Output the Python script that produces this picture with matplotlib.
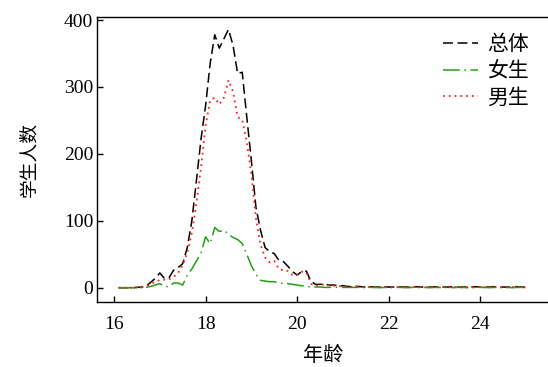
import numpy as np
import matplotlib
matplotlib.use('Agg')
import matplotlib.pyplot as plt

plt.rcParams['font.family'] = ['Liberation Serif', 'Noto Sans CJK SC']

# ages (years)
age = [16.1, 16.2, 16.3, 16.4, 16.5, 16.6, 16.7, 16.8, 16.9, 17.0,
       17.1, 17.2, 17.3, 17.4, 17.5, 17.6, 17.7, 17.8, 17.9, 18.0,
       18.1, 18.2, 18.3, 18.4, 18.5, 18.6, 18.7, 18.8, 18.9, 19.0,
       19.1, 19.2, 19.3, 19.4, 19.5, 19.6, 19.7, 19.8, 19.9, 20.0,
       20.1, 20.2, 20.3, 20.4, 20.5, 20.6, 20.7, 20.8, 20.9, 21.0,
       21.1, 21.2, 21.3, 21.4, 21.5, 21.6, 21.7, 21.8, 21.9, 22.0,
       22.1, 22.2, 22.3, 22.4, 22.5, 22.6, 22.7, 22.8, 22.9, 23.0,
       23.1, 23.2, 23.3, 23.4, 23.5, 23.6, 23.7, 23.8, 23.9, 24.0,
       24.1, 24.2, 24.3, 24.4, 24.5, 24.6, 24.7, 24.8, 24.9, 25.0]

total = [0, 0, 0, 0, 0.5, 1, 2.5, 8, 14, 22,
         14, 15, 26, 30, 36, 60, 100, 160, 222, 272,
         335, 378, 358, 372, 386, 362, 320, 322, 255, 190,
         120, 86, 60, 54, 51, 41, 39, 32, 24, 19,
         24, 25, 10, 5, 5, 5.5, 4, 4, 3, 3,
         2, 1.5, 2, 1.5, 1, 1.5, 1, 1, 1.5, 1,
         1, 1.5, 1, 1, 1, 1.5, 1, 1, 1, 1.5,
         1, 1, 1, 1.5, 1, 1, 1, 1, 1.5, 1,
         1, 1, 1.5, 1, 1, 1, 1, 1.5, 1, 1]

male = [0, 0, 0, 0, 0.5, 1, 2, 5, 9, 11.5,
        12, 12.5, 16, 22, 34, 52, 82, 126, 180, 242,
        280, 284, 274, 284, 310, 293, 255, 251, 218, 170,
        104, 64, 45, 38, 40, 28, 26, 25, 19, 19,
        24, 23, 6, 3, 4, 5, 3.5, 3, 2.5, 2,
        1.5, 1, 1.5, 1, 1, 1, 0.5, 1, 1, 0.5,
        1, 1, 0.5, 1, 0.5, 1, 1, 0.5, 1, 1,
        0.5, 1, 0.5, 1, 1, 0.5, 1, 0.5, 1, 1,
        0.5, 1, 1, 0.5, 1, 0.5, 1, 1, 0.5, 0.5]

female = [0, 0, 0, 0, 0, 0, 0.5, 2, 4, 6,
          2, 1.5, 7, 7, 4, 19, 28, 40, 52, 76,
          66, 90, 84, 86, 80, 75, 72, 66, 50, 33,
          20, 11, 10, 9, 9, 7, 6.5, 6, 5, 4,
          3, 2, 1, 1, 1, 0.5, 0.5, 1, 0.5, 0.5,
          0.5, 0.5, 0.5, 0.5, 0, 0.5, 0.5, 0, 0.5, 0.5,
          0, 0.5, 0.5, 0, 0.5, 0, 0.5, 0.5, 0, 0.5,
          0.5, 0, 0.5, 0, 0.5, 0.5, 0, 0.5, 0, 0.5,
          0.5, 0, 0.5, 0.5, 0, 0.5, 0, 0.5, 0.5, 0]

xticks = [16, 18, 20, 22, 24]
yticks = [0, 100, 200, 300, 400]

fig = plt.figure(figsize=(5.48, 3.67), dpi=100)
ax = fig.add_axes([0.1776, 0.177, 0.8224, 0.7775])

ax.plot(age, total, color='black', lw=1.1, dashes=(6.5, 3), label='总体')
ax.plot(age, female, color='#22a012', lw=1.1, dashes=(11, 3, 1, 3), label='女生')
ax.plot(age, male, color='#ff2020', lw=1.3, dashes=(1, 2.2), label='男生')

ax.set_xlim(15.635, 25.48)
ax.set_ylim(-21.4, 405)
ax.set_xticks(xticks)
ax.set_yticks(yticks)
ax.tick_params(direction='in', length=4.5, width=1, labelsize=14,
               top=False, right=False)
ax.tick_params(axis='x', pad=10)
ax.tick_params(axis='y', pad=3)
ax.spines['right'].set_visible(False)
for s in ['left', 'bottom', 'top']:
    ax.spines[s].set_linewidth(1.0)

ax.set_xlabel('年龄', fontsize=14.5, labelpad=10)
ax.set_ylabel('学生人数', fontsize=13.5, labelpad=18)

leg = ax.legend(loc='upper right', frameon=False, fontsize=15,
                handlelength=1.65, handletextpad=0.45, labelspacing=0.34,
                bbox_to_anchor=(0.99, 0.985), borderaxespad=0.3)

plt.savefig('out.png', dpi=100)
